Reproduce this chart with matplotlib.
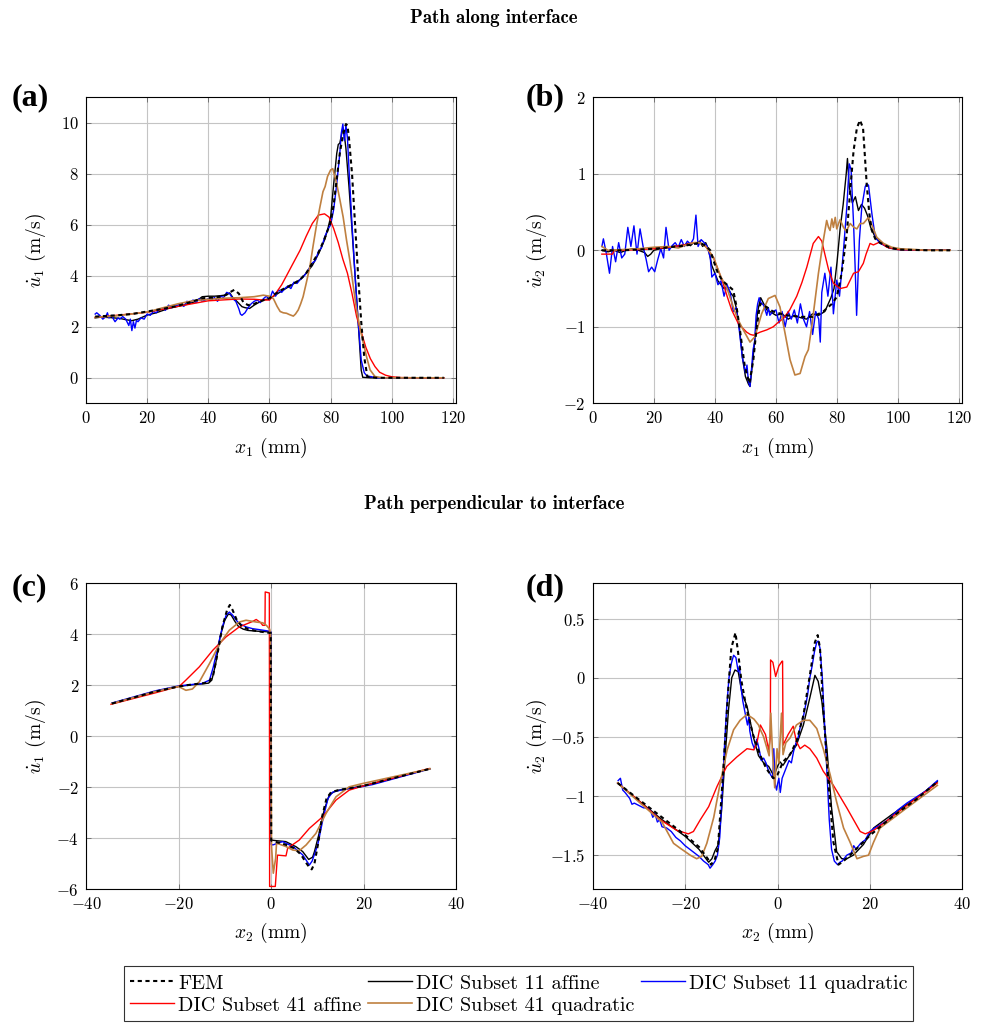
import matplotlib
matplotlib.use("Agg")
import matplotlib.pyplot as plt
from matplotlib.ticker import FuncFormatter
from matplotlib.lines import Line2D

plt.rcParams['font.family'] = 'cmr10'
plt.rcParams['mathtext.fontset'] = 'cm'
plt.rcParams['axes.formatter.use_mathtext'] = True
plt.rcParams['axes.unicode_minus'] = True

# ---------------- (a) path along interface, u1 ----------------
a_fem_x = [3, 10, 15, 20, 25, 30, 35, 38, 42, 45, 47, 48.5, 50, 51.5, 53, 55, 57, 60, 62, 64,
           66, 68, 70, 72, 74, 76, 78, 80, 81, 82, 83, 84, 85, 85.5, 86, 87, 88, 89, 90, 91,
           92, 95, 100, 110, 117]
a_fem_y = [2.4, 2.45, 2.5, 2.6, 2.7, 2.82, 3.0, 3.12, 3.15, 3.2, 3.35, 3.45, 3.3, 2.95, 2.85,
           2.9, 3.0, 3.12, 3.3, 3.45, 3.57, 3.7, 3.85, 4.1, 4.5, 4.9, 5.45, 6.1, 6.8, 7.8, 8.8,
           9.5, 9.95, 9.9, 9.4, 8.0, 6.0, 4.0, 2.2, 0.8, 0.05, 0.0, 0.0, 0.0, 0.0]

a_k11_x = [3, 5, 8, 11, 13, 15, 17, 20, 23, 27, 30, 33, 36, 38, 40, 42, 44, 46, 47, 48, 49.5,
           51, 52, 53.5, 55, 56, 58, 60, 62, 64, 66, 68, 70, 72, 74, 76, 78, 79, 80, 81, 82,
           82.5, 83, 83.5, 84, 84.5, 85, 86, 87, 88, 89, 90, 90.5, 93, 100, 110, 117]
a_k11_y = [2.35, 2.38, 2.36, 2.33, 2.28, 2.24, 2.3, 2.46, 2.55, 2.72, 2.8, 2.88, 3.0, 3.18,
           3.2, 3.2, 3.22, 3.25, 3.33, 3.15, 2.98, 2.79, 2.75, 2.72, 2.85, 2.92, 3.05, 3.1,
           3.25, 3.4, 3.55, 3.7, 3.85, 4.1, 4.4, 4.85, 5.4, 5.8, 6.3, 7.6, 8.8, 9.15, 9.2, 9.5,
           9.8, 9.5, 9.0, 7.5, 5.8, 4.0, 2.2, 0.3, 0.02, 0.0, 0.0, 0.0, 0.0]

a_b11_x = [3, 3.5, 4.5, 5.5, 6.5, 7, 7.5, 8.5, 9, 9.5, 10.5, 11, 12, 13, 14, 14.5, 15, 15.5,
           16, 16.5, 17, 18, 19, 20, 21, 22, 23, 24, 25, 26, 27, 28, 29, 30, 31, 32, 33, 34,
           35, 36, 37, 38, 39, 40, 41, 42, 43, 44, 45, 46, 47, 48, 49, 50, 50.5, 51, 52, 53,
           54, 55, 56, 57, 58, 59, 60, 61, 62, 63, 64, 65, 66, 67, 68, 69, 70, 71, 72, 73, 74,
           75, 76, 77, 78, 79, 80, 81, 82, 83, 83.5, 84, 84.5, 85, 85.5, 86, 87, 88, 89, 90,
           91, 92, 93, 95, 100, 110, 117]
a_b11_y = [2.5, 2.55, 2.45, 2.3, 2.4, 2.55, 2.35, 2.45, 2.3, 2.2, 2.35, 2.3, 2.4, 2.3, 2.05,
           2.3, 1.85, 2.2, 1.95, 2.25, 2.2, 2.35, 2.3, 2.5, 2.45, 2.6, 2.55, 2.7, 2.72, 2.65,
           2.85, 2.75, 2.8, 2.85, 2.9, 2.8, 3.0, 2.95, 3.05, 2.95, 3.1, 3.0, 3.05, 3.1, 3.05,
           3.15, 3.0, 3.2, 3.15, 3.35, 3.3, 3.1, 3.0, 2.7, 2.5, 2.45, 2.55, 2.75, 2.9, 3.0,
           3.05, 2.95, 3.1, 3.2, 3.05, 3.4, 3.2, 3.45, 3.35, 3.5, 3.6, 3.5, 3.75, 3.7, 3.85,
           3.95, 4.1, 4.3, 4.5, 4.6, 4.95, 5.1, 5.5, 5.8, 6.0, 6.6, 7.6, 8.8, 9.6, 9.95, 9.3,
           9.9, 9.4, 8.2, 6.0, 4.0, 2.2, 0.7, 0.2, 0.05, 0.05, 0.0, 0.0, 0.0, 0.0]

a_r41_x = [3, 10, 20, 30, 40, 50, 55, 58, 60, 62, 64, 66, 68, 70, 72, 74, 76, 78, 79.5, 81,
           82.5, 84, 85.5, 87, 88.5, 90, 91.5, 93, 94.5, 96, 98, 100, 103, 110, 117]
a_r41_y = [2.37, 2.45, 2.57, 2.8, 3.02, 3.09, 3.08, 3.05, 3.05, 3.3, 3.65, 4.1, 4.55, 5.0,
           5.55, 6.05, 6.38, 6.43, 6.3, 5.85, 5.3, 4.65, 4.1, 3.3, 2.4, 1.8, 1.2, 0.75, 0.44,
           0.22, 0.1, 0.04, 0.01, 0.0, 0.0]

a_q41_x = [3, 10, 20, 30, 35, 40, 45, 50, 55, 58, 60, 61.3, 62.5, 63.5, 64.5, 65.6, 66.5,
           67.8, 68.5, 69.4, 70.2, 71, 72, 73.2, 74.3, 75.4, 76.5, 77.5, 78.2, 79, 80, 80.7,
           82, 83, 84.1, 85.2, 86.3, 87.4, 88.5, 89.6, 90.7, 91.8, 92.9, 94.5, 97, 100, 110,
           117]
a_q41_y = [2.37, 2.43, 2.58, 2.9, 3.02, 3.08, 3.12, 3.14, 3.18, 3.24, 3.2, 3.1, 2.8, 2.6,
           2.55, 2.53, 2.48, 2.42, 2.5, 2.66, 2.9, 3.18, 3.7, 4.35, 5.2, 6.0, 6.7, 7.3, 7.5,
           7.9, 8.15, 8.2, 7.6, 7.0, 6.3, 5.4, 4.6, 3.6, 2.66, 1.95, 1.36, 0.8, 0.31, 0.05,
           0.0, 0.0, 0.0, 0.0]

# ---------------- (b) path along interface, u2 ----------------
b_fem_x = [3, 10, 20, 25, 30, 33, 35, 37, 38.5, 39.5, 41, 42.5, 44, 46, 47.1, 48.2, 49.8,
           51.3, 52.6, 53.7, 54.8, 56.9, 59, 63.5, 68, 72, 75.5, 78.3, 79.9, 81.5, 83.2, 84.3,
           85.4, 86.5, 87.5, 88.5, 89.7, 90.5, 91.3, 92.5, 94, 97, 100, 110, 117]
b_fem_y = [0.0, 0.0, 0.02, 0.04, 0.06, 0.08, 0.1, 0.06, 0.0, -0.13, -0.3, -0.4, -0.45, -0.52,
           -0.74, -1.04, -1.52, -1.74, -1.43, -1.0, -0.7, -0.74, -0.8, -0.85, -0.87, -0.87,
           -0.8, -0.7, -0.61, -0.3, 0.22, 0.78, 1.3, 1.6, 1.7, 1.6, 0.87, 0.5, 0.27, 0.15,
           0.1, 0.04, 0.01, 0.0, 0.0]

b_k11_x = [3, 5, 7, 9, 11, 13, 15, 17, 18, 19, 20, 22, 24, 26, 28, 30, 31, 32, 33, 34, 35,
           36, 37, 38, 39, 40, 41, 42, 43, 44, 45, 46, 47, 48, 49, 50, 51, 51.5, 52, 53, 54,
           55, 56, 57, 58, 60, 62, 64, 66, 68, 70, 72, 74, 76, 78, 79, 80, 81, 82, 83, 83.4,
           84, 85, 86, 87, 88, 89, 90, 91, 92.5, 94.5, 97, 100, 110, 117]
b_k11_y = [0.0, -0.02, 0.0, -0.03, 0.0, 0.02, 0.0, -0.03, -0.08, -0.05, 0.0, 0.02, 0.03, 0.05,
           0.06, 0.07, 0.09, 0.06, 0.1, 0.08, 0.12, 0.05, 0.1, 0.0, -0.2, -0.3, -0.4, -0.45,
           -0.5, -0.48, -0.55, -0.6, -0.75, -1.0, -1.4, -1.65, -1.75, -1.78, -1.6, -1.2, -0.8,
           -0.62, -0.7, -0.78, -0.8, -0.85, -0.83, -0.9, -0.85, -0.88, -0.9, -0.83, -0.85,
           -0.8, -0.62, -0.5, -0.15, 0.28, 0.6, 1.0, 1.2, 0.83, 0.62, 0.7, 0.52, 0.6, 0.55,
           0.45, 0.3, 0.17, 0.09, 0.03, 0.01, 0.0, 0.0]

b_b11_x = [3, 3.5, 4.5, 5.5, 6.5, 7.5, 8.5, 9.5, 10.5, 11.5, 12.5, 13.5, 14.5, 15.5, 16.5,
           17.5, 18.3, 19.3, 20.3, 21.3, 22.3, 23.2, 24, 25, 26, 27, 28, 29, 30, 31, 32, 33,
           33.8, 34.5, 35.5, 36.5, 37.5, 38.5, 39, 40, 41, 42, 43, 44, 45, 46, 47, 48, 49, 50,
           50.5, 51, 51.5, 52, 52.5, 53, 53.5, 54, 54.5, 55, 56, 57, 57.5, 58, 59, 60, 61, 62,
           63, 64, 65, 66, 67, 68, 69, 70, 71, 72, 73, 74, 74.5, 75, 76, 77, 78, 78.8, 79.9,
           80.8, 82.1, 83.2, 84, 84.6, 85.4, 85.9, 86.4, 87.3, 88.1, 89.2, 89.7, 90.3, 91.4,
           92.5, 94.1, 97.4, 100, 110, 117]
b_b11_y = [0.05, 0.15, -0.05, -0.3, 0.05, -0.15, 0.1, -0.1, -0.05, 0.3, 0.05, 0.32, -0.05,
           0.28, 0.05, -0.12, -0.28, -0.22, -0.28, -0.12, 0.02, -0.1, 0.3, 0.0, 0.06, 0.1,
           0.04, 0.14, 0.05, 0.12, 0.08, 0.15, 0.46, 0.05, 0.14, 0.1, 0.05, -0.1, -0.35, -0.3,
           -0.45, -0.4, -0.6, -0.45, -0.55, -0.8, -0.75, -1.05, -1.4, -1.6, -1.5, -1.72, -1.78,
           -1.55, -1.3, -1.2, -0.85, -0.7, -0.62, -0.68, -0.72, -0.85, -0.75, -0.85, -0.8,
           -0.78, -0.95, -0.8, -1.0, -0.8, -0.9, -0.78, -0.95, -0.7, -0.9, -1.0, -0.8, -1.1,
           -0.8, -0.9, -1.2, -0.55, -0.3, -0.6, -0.22, -0.83, -0.39, -0.6, 0.0, 0.57, 1.13,
           1.05, 0.35, -0.2, -0.85, 0.13, 0.57, 0.83, 0.87, 0.85, 0.48, 0.17, 0.09, 0.03,
           0.01, 0.0, 0.0]

b_r41_x = [3, 6.5, 7, 10, 15, 20, 25, 30, 33, 35, 37, 39.5, 41, 42.7, 44, 45.5, 47.7, 50.4,
           51.6, 52.6, 54.8, 57, 59.1, 60.5, 62.4, 64.5, 66.8, 68.5, 70.1, 72.2, 73.9, 75,
           76, 77.2, 78.8, 81, 83.2, 85.4, 87, 88.6, 89.5, 90.8, 91.9, 94.1, 96.3, 100, 110,
           117]
b_r41_y = [-0.05, -0.05, 0.0, 0.0, 0.01, 0.02, 0.04, 0.07, 0.1, 0.1, 0.05, -0.09, -0.25,
           -0.43, -0.6, -0.78, -0.96, -1.07, -1.1, -1.11, -1.07, -1.04, -1.0, -0.95, -0.89,
           -0.78, -0.6, -0.42, -0.22, 0.09, 0.18, 0.12, -0.05, -0.25, -0.43, -0.5, -0.48,
           -0.3, -0.28, -0.17, -0.05, 0.09, 0.07, 0.11, 0.04, 0.01, 0.0, 0.0]

b_q41_x = [3, 5, 10, 15, 20, 25, 28, 30, 33, 35, 37, 39.5, 42, 44, 46, 47.5, 49.3, 51.5,
           53.1, 55.3, 57.5, 59.7, 61.3, 63, 64.6, 66.2, 67.9, 69.5, 70.6, 71.7, 72.8, 73.9,
           75.5, 76.6, 77.2, 77.7, 78.3, 78.8, 79.4, 79.9, 80.5, 81, 82.1, 83, 84.3, 85.5,
           86.5, 87.5, 88.6, 90.3, 91.4, 93, 95.2, 97.9, 100.7, 110, 117]
b_q41_y = [0.05, 0.0, 0.01, 0.02, 0.04, 0.05, 0.03, 0.06, 0.1, 0.1, 0.05, -0.09, -0.35, -0.5,
           -0.74, -0.9, -1.04, -1.2, -1.13, -0.83, -0.63, -0.59, -0.74, -1.09, -1.43, -1.63,
           -1.61, -1.39, -1.3, -1.0, -0.65, -0.3, 0.13, 0.39, 0.3, 0.26, 0.41, 0.3, 0.43,
           0.28, 0.35, 0.4, 0.3, 0.25, 0.35, 0.3, 0.28, 0.35, 0.35, 0.43, 0.33, 0.17, 0.09,
           0.04, 0.02, 0.0, 0.0]

# ---------------- (c) path perpendicular to interface, u1 ----------------
c_fem_x = [-34.4, -25, -20, -17, -15, -13.5, -12.5, -11.5, -10.5, -9.5, -8.9, -8.3, -7.5,
           -6.5, -5, -3, -1, -0.05, 0.05, 1, 3, 5, 6.5, 7.5, 8.3, 8.8, 9.4, 10.2, 11, 12, 13,
           15, 17, 20, 34.4]
c_fem_y = [1.28, 1.75, 1.95, 2.03, 2.07, 2.1, 2.4, 3.3, 4.3, 4.95, 5.15, 4.95, 4.6, 4.35,
           4.2, 4.12, 4.07, 4.05, -4.1, -4.15, -4.25, -4.4, -4.65, -4.95, -5.15, -5.23, -5.0,
           -4.2, -3.2, -2.45, -2.2, -2.1, -2.05, -1.95, -1.28]

c_k11_x = [-34.4, -25, -20, -17, -15, -13.5, -12.8, -12, -11, -10, -9.2, -8.6, -7.8, -7, -6,
           -5, -3, -1, -0.05, 0.05, 1, 3.2, 5.4, 6.85, 8.15, 9.0, 9.4, 10.4, 11.5, 12.6, 14,
           16.9, 20, 34.4]
c_k11_y = [1.28, 1.75, 1.95, 2.02, 2.05, 2.08, 2.2, 2.8, 3.9, 4.55, 4.8, 4.75, 4.5, 4.3,
           4.2, 4.15, 4.12, 4.1, 4.08, -4.08, -4.1, -4.14, -4.34, -4.53, -4.84, -4.75, -4.53,
           -3.82, -2.9, -2.31, -2.14, -2.05, -1.95, -1.28]

c_b11_x = [-34.4, -25, -20, -17, -15, -13.3, -12.5, -11.5, -10.5, -9.7, -9.0, -8.3, -7.5,
           -6.85, -5.4, -4, -2.5, -0.7, -0.05, 0.05, 0.4, 2.5, 4.7, 6.85, 8.3, 8.9, 10.1,
           11.2, 12.3, 13.3, 15.5, 19.1, 22, 34.4]
c_b11_y = [1.3, 1.78, 1.97, 2.03, 2.06, 2.2, 2.7, 3.5, 4.3, 4.75, 4.87, 4.75, 4.55, 4.42,
           4.29, 4.22, 4.18, 4.13, 4.1, -4.25, -4.27, -4.14, -4.33, -4.66, -5.06, -4.9,
           -4.27, -3.29, -2.45, -2.2, -2.1, -2.0, -1.9, -1.28]

c_r41_x = [-34.6, -25, -19.8, -18.4, -15.5, -12.6, -9.7, -6.85, -4, -3.2, -2.2, -1.8, -1.3,
           -1.25, -0.36, -0.3, 0.93, 1.4, 3.24, 3.6, 6.1, 8.3, 11.2, 14.05, 16.9, 19.8, 34.2]
c_r41_y = [1.25, 1.7, 1.96, 2.2, 2.72, 3.37, 3.9, 4.29, 4.5, 4.58, 4.45, 4.35, 4.35, 5.66,
           5.62, -5.9, -5.9, -4.67, -4.7, -4.4, -4.08, -3.62, -3.16, -2.51, -2.12, -1.96,
           -1.27]

c_q41_x = [-34.4, -25, -20, -18.4, -17, -15.5, -13.3, -11.1, -9.0, -6.85, -5.4, -3.2, -1.8,
           -1.0, -0.3, -0.1, 0.1, 0.5, 1.0, 1.2, 3.2, 4.7, 6.1, 7.6, 9.7, 11.9, 14.05, 16.9,
           19.8, 34.4]
c_q41_y = [1.28, 1.75, 1.95, 1.8, 1.85, 2.13, 2.85, 3.63, 4.16, 4.48, 4.55, 4.48, 4.45, 4.35,
           4.2, 4.0, -4.3, -5.38, -4.8, -4.2, -4.33, -4.47, -4.5, -4.27, -3.82, -3.03, -2.38,
           -1.99, -1.86, -1.28]

# ---------------- (d) path perpendicular to interface, u2 ----------------
d_fem_x = [-34.6, -30, -25, -20, -17, -15.1, -14.4, -13.6, -12.9, -11.8, -10.7, -10.0, -9.1,
           -8.55, -7.8, -6.7, -5.3, -3.8, -2.4, -0.9, 0, 1.2, 2.7, 4.1, 5.6, 7.0, 8.1, 8.7,
           9.2, 9.9, 11, 12.1, 13.2, 14.3, 15.7, 20.1, 25, 30, 34.6]
d_fem_y = [-0.89, -1.03, -1.18, -1.33, -1.43, -1.53, -1.58, -1.54, -1.44, -0.82, -0.12, 0.25,
           0.38, 0.22, -0.03, -0.26, -0.48, -0.65, -0.77, -0.85, -0.82, -0.71, -0.65, -0.54,
           -0.32, 0.02, 0.30, 0.36, 0.25, -0.26, -0.88, -1.39, -1.58, -1.55, -1.5, -1.33,
           -1.17, -1.03, -0.88]

d_k11_x = [-34.6, -30, -25, -20, -17, -14.9, -14.2, -13.5, -12.8, -12.1, -11.4, -10.6, -9.9,
           -9.2, -8.5, -7.7, -6.6, -5.1, -4.1, -3.0, -1.9, -0.8, 0, 0.5, 1.2, 2.7, 4.1, 5.6,
           7.0, 8.1, 8.8, 9.6, 10.7, 11.7, 12.8, 13.9, 15, 16.4, 18.6, 20.8, 25, 30, 34.6]
d_k11_y = [-0.89, -1.04, -1.2, -1.34, -1.45, -1.56, -1.53, -1.46, -1.41, -1.12, -0.7, -0.27,
           0.0, 0.065, 0.05, -0.13, -0.24, -0.52, -0.66, -0.72, -0.75, -0.83, -0.75, -0.71,
           -0.74, -0.65, -0.57, -0.4, -0.17, 0.02, -0.03, -0.2, -0.6, -1.1, -1.47, -1.53,
           -1.53, -1.5, -1.41, -1.27, -1.15, -1.02, -0.88]

d_b11_x = [-34.5, -34, -33.5, -33, -32, -31.5, -31, -30, -29, -28, -27.5, -27, -26.5, -26,
           -25.5, -25, -24, -23, -22, -21, -20, -19, -18, -17, -16, -15, -14.6, -14, -13.5,
           -13, -12.5, -12, -11.5, -11, -10.5, -10, -9.5, -9, -8.5, -8.2, -8, -7.5, -7, -6.5,
           -6.2, -6, -5.5, -5, -4.5, -4, -3.5, -3, -2.5, -2, -1.5, -1, -0.8, -0.5, -0.2, 0,
           0.3, 0.6, 1.0, 1.5, 2, 2.5, 3, 3.5, 4, 4.5, 5, 5.5, 6, 6.5, 7, 7.5, 8, 8.5, 8.8,
           9.2, 9.7, 10.2, 10.7, 11.2, 11.7, 12.3, 13, 13.5, 14, 15, 16, 16.5, 17, 18, 19, 20,
           21, 22, 24, 26, 28, 30, 32, 34.6]
d_b11_y = [-0.87, -0.85, -0.95, -0.97, -1.02, -1.07, -1.06, -1.08, -1.1, -1.1, -1.12, -1.18,
           -1.15, -1.22, -1.2, -1.26, -1.27, -1.3, -1.35, -1.38, -1.42, -1.45, -1.48, -1.51,
           -1.55, -1.58, -1.61, -1.58, -1.55, -1.5, -1.35, -1.0, -0.6, -0.25, 0.0, 0.12,
           0.19, 0.17, 0.05, 0.1, -0.05, -0.2, -0.3, -0.4, -0.33, -0.45, -0.55, -0.6, -0.52,
           -0.6, -0.7, -0.68, -0.72, -0.78, -0.82, -0.85, -0.6, -0.9, -0.95, -0.9, -0.85,
           -0.97, -0.85, -0.8, -0.75, -0.7, -0.72, -0.62, -0.55, -0.5, -0.4, -0.35, -0.25,
           -0.15, 0.0, 0.1, 0.22, 0.3, 0.31, 0.25, 0.0, -0.4, -0.8, -1.2, -1.45, -1.55, -1.58,
           -1.56, -1.55, -1.5, -1.48, -1.42, -1.45, -1.4, -1.37, -1.3, -1.27, -1.25, -1.2,
           -1.12, -1.06, -1.01, -0.96, -0.87]

d_r41_x = [-34.6, -30, -25.4, -21.8, -19.3, -18.2, -16.7, -14.9, -13.1, -11, -8.8, -6.6,
           -5.1, -4.4, -3.7, -2.6, -1.9, -1.55, -1.5, -1.0, -0.4, 0.3, 1.0, 1.1, 1.2, 2.3,
           3.4, 4.1, 4.9, 5.9, 7.0, 8.5, 9.9, 12.1, 15, 17.9, 19, 20.8, 23, 28, 34.6]
d_r41_y = [-0.89, -1.04, -1.2, -1.29, -1.32, -1.3, -1.2, -1.09, -0.92, -0.75, -0.67, -0.6,
           -0.61, -0.54, -0.4, -0.48, -0.61, -0.5, 0.15, 0.13, 0.01, 0.1, 0.14, 0.14, -0.57,
           -0.48, -0.41, -0.54, -0.6, -0.57, -0.6, -0.68, -0.79, -0.91, -1.1, -1.3, -1.32,
           -1.29, -1.23, -1.08, -0.89]

d_q41_x = [-34.6, -30, -25, -22.5, -21.1, -18.9, -17.5, -16.4, -15.3, -13.8, -12.4, -10.9,
           -9.5, -8.1, -6.6, -5.1, -4.1, -3.7, -3.0, -2.4, -1.8, -1.45, -1.1, -0.6, -0.1, 0.3,
           0.87, 1.2, 1.8, 2.7, 4.1, 5.6, 7.0, 8.5, 9.9, 11.4, 12.8, 14.3, 15.7, 17.2, 18.6,
           19.7, 20.8, 22.2, 28, 34.6]
d_q41_y = [-0.89, -1.05, -1.22, -1.4, -1.44, -1.5, -1.53, -1.51, -1.4, -1.18, -0.89, -0.61,
           -0.44, -0.36, -0.31, -0.35, -0.4, -0.44, -0.5, -0.58, -0.66, -0.3, -0.62, -0.93,
           -0.6, -0.72, -0.3, -0.65, -0.55, -0.51, -0.4, -0.36, -0.36, -0.43, -0.6, -0.82,
           -1.05, -1.27, -1.39, -1.53, -1.51, -1.5, -1.39, -1.27, -1.1, -0.91]

labels = ['FEM', 'DIC Subset 11 affine', 'DIC Subset 11 quadratic',
          'DIC Subset 41 affine', 'DIC Subset 41 quadratic']
brown = '#bf8040'
fem_dash = (2.0, 1.7)

fig = plt.figure(figsize=(9.88, 10.26), dpi=100)
W, H = 988.0, 1026.0


def make_axes(left, top, right, bottom):
    return fig.add_axes([left / W, 1 - bottom / H, (right - left) / W, (bottom - top) / H])


ax_a = make_axes(86, 97.3, 456, 403.3)
ax_b = make_axes(592.7, 97.3, 962.3, 403.3)
ax_c = make_axes(86, 583.3, 456, 889)
ax_d = make_axes(592.7, 583.3, 962.3, 889)

panels = [
    (ax_a, a_fem_x, a_fem_y, a_k11_x, a_k11_y, a_b11_x, a_b11_y, a_r41_x, a_r41_y, a_q41_x, a_q41_y),
    (ax_b, b_fem_x, b_fem_y, b_k11_x, b_k11_y, b_b11_x, b_b11_y, b_r41_x, b_r41_y, b_q41_x, b_q41_y),
    (ax_c, c_fem_x, c_fem_y, c_k11_x, c_k11_y, c_b11_x, c_b11_y, c_r41_x, c_r41_y, c_q41_x, c_q41_y),
    (ax_d, d_fem_x, d_fem_y, d_k11_x, d_k11_y, d_b11_x, d_b11_y, d_r41_x, d_r41_y, d_q41_x, d_q41_y),
]

fmt = FuncFormatter(lambda v, p: '$%g$' % round(v, 6))

for ax, fx, fy, kx, ky, bx, by, rx, ry, qx, qy in panels:
    ax.plot(kx, ky, color='black', lw=1.0, zorder=3)
    ax.plot(bx, by, color='#0000ff', lw=1.0, zorder=4)
    ax.plot(rx, ry, color='#ff0000', lw=1.0, zorder=5)
    ax.plot(qx, qy, color=brown, lw=1.2, zorder=5)
    ax.plot(fx, fy, color='black', lw=1.5, dashes=fem_dash, zorder=6)
    ax.grid(True, color='#c4c4c4', lw=0.8)
    ax.set_axisbelow(True)
    ax.tick_params(direction='in', top=True, right=True, length=3.5, width=0.6,
                   color='#666666', labelsize=12, pad=5)
    for s in ax.spines.values():
        s.set_linewidth(0.8)
    ax.xaxis.set_major_formatter(fmt)
    ax.yaxis.set_major_formatter(fmt)

ax_a.set_xlim(0, 121)
ax_a.set_ylim(-1, 11)
ax_a.set_xticks(range(0, 121, 20))
ax_a.set_yticks(range(0, 11, 2))
ax_a.set_xlabel('$x_1$ (mm)', fontsize=14)
ax_a.set_ylabel('$\\dot{u}_1$ (m/s)', fontsize=14)

ax_b.set_xlim(0, 121)
ax_b.set_ylim(-2, 2)
ax_b.set_xticks(range(0, 121, 20))
ax_b.set_yticks([-2, -1, 0, 1, 2])
ax_b.set_xlabel('$x_1$ (mm)', fontsize=14)
ax_b.set_ylabel('$\\dot{u}_2$ (m/s)', fontsize=14)

ax_c.set_xlim(-40, 40)
ax_c.set_ylim(-6, 6)
ax_c.set_xticks(range(-40, 41, 20))
ax_c.set_yticks(range(-6, 7, 2))
ax_c.set_xlabel('$x_2$ (mm)', fontsize=14)
ax_c.set_ylabel('$\\dot{u}_1$ (m/s)', fontsize=14)

ax_d.set_xlim(-40, 40)
ax_d.set_ylim(-1.786, 0.798)
ax_d.set_xticks(range(-40, 41, 20))
ax_d.set_yticks([-1.5, -1, -0.5, 0, 0.5])
ax_d.set_xlabel('$x_2$ (mm)', fontsize=14)
ax_d.set_ylabel('$\\dot{u}_2$ (m/s)', fontsize=14)

for ax in (ax_a, ax_c):
    ax.xaxis.set_label_coords(0.5, -0.105)
    ax.yaxis.set_label_coords(-0.102, 0.5)
for ax in (ax_b, ax_d):
    ax.xaxis.set_label_coords(0.5, -0.105)
    ax.yaxis.set_label_coords(-0.118, 0.5)

# section titles and panel tags
fig.text(0.5, 1 - 18 / H, 'Path along interface', family='cmb10', fontsize=13.5,
         ha='center', va='center')
fig.text(0.5, 1 - 504 / H, 'Path perpendicular to interface', family='cmb10', fontsize=13.5,
         ha='center', va='center')
for tag, x, y in [('(a)', 12, 98), ('(b)', 526, 98), ('(c)', 12, 588), ('(d)', 526, 588)]:
    fig.text(x / W, 1 - y / H, tag, family='Liberation Serif', fontweight='bold',
             fontsize=23, ha='left', va='center')

handles = [
    Line2D([], [], color='black', lw=1.5, dashes=fem_dash),
    Line2D([], [], color='#ff0000', lw=1.0),
    Line2D([], [], color='black', lw=1.0),
    Line2D([], [], color=brown, lw=1.2),
    Line2D([], [], color='#0000ff', lw=1.0),
]
names = [labels[0], labels[3], labels[1], labels[4], labels[2]]
leg = fig.legend(handles, names, ncol=3, loc='upper left',
                 bbox_to_anchor=(124 / W, 1 - 966 / H), borderaxespad=0,
                 fontsize=14.5, frameon=True, fancybox=False, edgecolor='black',
                 handlelength=2.2, handleheight=1.2, handletextpad=0.2,
                 columnspacing=0.3, labelspacing=0.05, borderpad=0.3)
leg.get_frame().set_linewidth(0.8)

fig.savefig('out.png', dpi=100)
